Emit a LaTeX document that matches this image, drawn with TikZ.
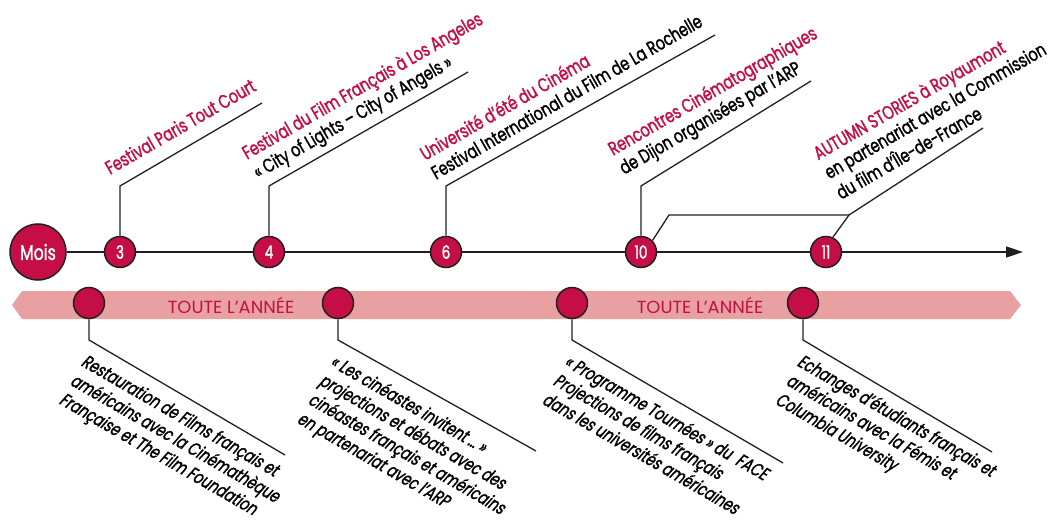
\documentclass[tikz,border=0pt]{standalone}
\usepackage{fontspec}
\setmainfont{Poppins}[FakeStretch=0.75,FakeBold=1.5]
\newfontfamily\bandfont{Poppins}[FakeStretch=1.02]
\newfontfamily\slfont{Poppins}[FakeStretch=0.74,FakeSlant=0.2,FakeBold=1.5]
\usetikzlibrary{arrows.meta}
\definecolor{crimson}{RGB}{197,14,70}
\definecolor{bandpink}{RGB}{232,161,160}
\definecolor{ink}{RGB}{35,31,32}
\newcommand\uplabel[1]{\begin{tabular}[b]{@{}l@{}}#1\end{tabular}}
\newcommand\downlabel[1]{\begin{tabular}[t]{@{}l@{}}#1\end{tabular}}
\newcommand\hl{\color{crimson}}
\begin{document}
\begin{tikzpicture}[x=1pt,y=1pt,
    month/.style={circle, draw=ink, line width=1.5pt, fill=crimson, text=white,
      minimum size=31pt, inner sep=0pt, font=\fontsize{18}{18}\selectfont},
    yearly/.style={circle, draw=ink, line width=1.5pt, fill=crimson, minimum size=31pt, inner sep=0pt},
    leader/.style={draw=ink, line width=1.3pt},
    toptext/.style={rotate=30, anchor=base west, inner sep=0pt, font=\fontsize{19}{22}\selectfont},
    bottext/.style={rotate=-30, anchor=base west, inner sep=0pt, font=\slfont\fontsize{18.5}{22}\selectfont},
    yeartext/.style={text=crimson, font=\bandfont\fontsize{17.5}{17.5}\selectfont}]
  \useasboundingbox (0,0) rectangle (1054,520);

  \fill[bandpink] (12,215) -- (22,229) -- (1010,229) -- (1021,215) -- (1010,201) -- (22,201) -- cycle;
  \node[yeartext] (t1) at (231,215) {TOUTE L’ANNÉE};
  \node[yeartext] (t2) at (700,215) {TOUTE L’ANNÉE};

  \node[month, minimum size=56pt, font=\fontsize{21}{21}\selectfont] (mois) at (38,268) {Mois};
  \coordinate (tend) at (1023,268);
  \draw[ink, line width=1.5pt, -{Triangle[length=17pt,width=11pt]}] (mois) -- (tend);

  \foreach \m/\x/\ex/\ey in {3/120/262/417, 4/269/468/448, 6/446/715/485, 10/641/811/439}{
    \node[month] (m\m) at (\x,268) {\m};
    \coordinate (k\m) at (\x,334);
    \coordinate (e\m) at (\ex,\ey);
    \draw[leader] (m\m) -- (k\m) -- (e\m);
  }
  \node[month] (m11) at (826,268) {11};
  \coordinate (j10) at (669,305);
  \coordinate (k11) at (849,305);
  \coordinate (e11) at (983,392);
  \draw[leader] (m10.45) -- (j10) -- (k11);
  \draw[leader] (m11.65) -- (k11) -- (e11);

  \node[toptext] (l3) at (110,345) {\uplabel{\hl Festival Paris Tout Court}};
  \node[toptext] (l4) at (258,341) {\uplabel{\hl Festival du Film Français à Los Angeles\\
    « City of Lights – City of Angels »}};
  \node[toptext] (l6) at (436,340) {\uplabel{\hl Université d’été du Cinéma\\
    Festival International du Film de La Rochelle}};
  \node[toptext] (l10) at (624,345) {\uplabel{\hl Rencontres Cinématographiques\\
    de Dijon organisées par l’ARP}};
  \node[toptext] (l11) at (841,320) {\uplabel{\hl AUTUMN STORIES à Royaumont\\
    en partenariat avec la Commission\\ du film d’Île-de-France}};

  \foreach \i/\x/\ex/\ey in {1/89/285/65, 2/338/536/69, 3/572/783/57, 4/803/992/68}{
    \node[yearly] (y\i) at (\x,217) {};
    \coordinate (b\i) at (\x,180);
    \coordinate (f\i) at (\ex,\ey);
    \draw[leader] (y\i) -- (b\i) -- (f\i);
  }

  \node[bottext] (d1) at (80,155) {\downlabel{Restauration de Films français et\\
    américains avec la Cinémathèque\\ Française et The Film Foundation}};
  \node[bottext] (d2) at (329,155) {\downlabel{« Les cinéastes invitent … »\\
    projections et débats avec des\\ cinéastes français et américains\\
    en partenariat avec l’ARP}};
  \node[bottext] (d3) at (563,155) {\downlabel{« Programme Tournées » du~ FACE\\
    Projections de films français\\ dans les universités américaines}};
  \node[bottext] (d4) at (796,155) {\downlabel{Echanges d’étudiants français et\\
    américains avec la Fémis et\\ Columbia University}};
\end{tikzpicture}
\end{document}
